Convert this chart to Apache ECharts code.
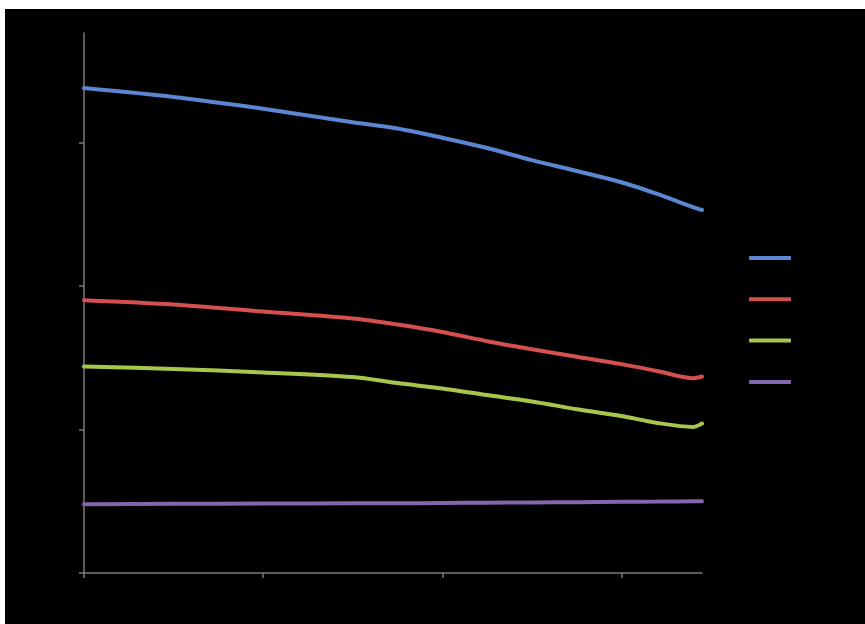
<!DOCTYPE html>
<html>
<head>
<meta charset="utf-8">
<script src="https://cdn.jsdelivr.net/npm/echarts@6/dist/echarts.min.js"></script>
<style>
  html, body { margin: 0; padding: 0; background: #ffffff; }
  #chart { position: absolute; left: 5px; top: 9px; width: 860px; height: 615px; background: #000000; }
</style>
</head>
<body>
<div id="chart"></div>
<script>
// Curves sampled along the horizontal axis
const xValues = [0, 5, 10, 15, 17.5, 20, 22.5, 25, 27.5, 30, 32, 34, 34.5];
const series1 = [169.0, 165.9, 161.8, 157.1, 154.9, 151.7, 148.1, 143.9, 140.1, 136.2, 132.1, 127.5, 126.5];
const series2 = [95.1, 93.6, 91.1, 88.7, 86.6, 84.0, 80.8, 78.0, 75.4, 72.8, 70.4, 67.9, 68.5];
const series3 = [72.0, 71.1, 69.9, 68.3, 66.2, 64.3, 62.0, 59.8, 57.1, 54.7, 52.3, 50.9, 52.1];
const series4 = [24.0, 24.1, 24.2, 24.3, 24.3, 24.4, 24.5, 24.6, 24.7, 24.8, 24.9, 25.0, 25.0];

const seriesNames = ['Series1', 'Series2', 'Series3', 'Series4'];
const seriesColors = ['#5a86d2', '#d4504e', '#a9c64c', '#8466ac'];
const yTicks = [0, 50, 100, 150];
const xTicks = [0, 10, 20, 30];

const allValues = [series1, series2, series3, series4];

const chart = echarts.init(document.getElementById('chart'));
chart.setOption({
  backgroundColor: '#000000',
  animation: false,
  grid: { left: 79, right: 163, top: 24, bottom: 51 },
  legend: {
    orient: 'vertical',
    left: 739,
    top: 238,
    itemWidth: 42,
    itemHeight: 4,
    itemGap: 29.3,
    icon: 'roundRect',
    textStyle: { color: '#000000', fontSize: 12 },
    data: seriesNames
  },
  xAxis: {
    type: 'value',
    min: 0,
    max: 34.5,
    splitLine: { show: false },
    axisLine: { lineStyle: { color: '#7a7a7a', width: 1.5 } },
    axisTick: { show: true, length: 5, customValues: xTicks, lineStyle: { color: '#7a7a7a', width: 1.5 } },
    axisLabel: { show: false }
  },
  yAxis: {
    type: 'value',
    min: 0,
    max: 188.2,
    splitLine: { show: false },
    axisLine: { show: true, lineStyle: { color: '#7a7a7a', width: 1.5 } },
    axisTick: { show: true, length: 5, customValues: yTicks, lineStyle: { color: '#7a7a7a', width: 1.5 } },
    axisLabel: { show: false }
  },
  series: allValues.map((vals, i) => ({
    name: seriesNames[i],
    type: 'line',
    smooth: 0.3,
    showSymbol: false,
    symbol: 'none',
    color: seriesColors[i],
    lineStyle: { width: 4, color: seriesColors[i], cap: 'round' },
    data: xValues.map((x, j) => [x, vals[j]])
  }))
});
</script>
</body>
</html>
